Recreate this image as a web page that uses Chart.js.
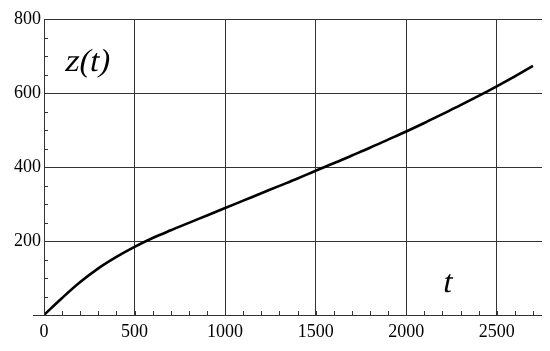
<!DOCTYPE html>
<html>
<head>
<meta charset="utf-8">
<script src="https://cdn.jsdelivr.net/npm/chart.js@4/dist/chart.umd.min.js"></script>
<style>
html,body{margin:0;padding:0;background:#fff;}
#wrap{width:550px;height:351px;position:relative;}
.pre{position:absolute;left:0;top:0;font-family:'Liberation Serif';font-size:18px;color:#fff;z-index:-1;}
</style>
</head>
<body>
<div class="pre">0123456789 z(t)</div>
<div id="wrap"><canvas id="c" width="550" height="351"></canvas></div>
<script>
const tValues = [0,100,200,300,400,500,600,700,800,900,1000,1100,1200,1300,1400,1500,1600,1700,1800,1900,2000,2100,2200,2300,2400,2500,2600,2700];
const zValues = [0,46,89,126,157,184,208,229,249,269,289,309,329,349,369,390,410,431,452,474,496,519,543,567,592,618,645,673];
const xTickLabels = [0,500,1000,1500,2000,2500];
const yTickLabels = [200,400,600,800];
const yAxisLabel = 'z(t)';
const xAxisLabel = 't';

const serif = "'Liberation Serif'";

function obliqueText(ctx, text, x, y) {
  ctx.save();
  ctx.translate(x, y);
  ctx.transform(1, 0, -0.21, 1, 0, 0);
  ctx.fillText(text, 0, 0);
  ctx.restore();
}

const extras = {
  id: 'extras',
  afterDraw(chart) {
    const ctx = chart.ctx;
    const xs = chart.scales.x, ys = chart.scales.y;
    const x0 = xs.getPixelForValue(0), y0 = ys.getPixelForValue(0);
    ctx.save();
    ctx.strokeStyle = '#333';
    ctx.lineWidth = 1;
    ctx.beginPath();
    ctx.moveTo(x0 - 11, Math.round(y0) + 0.5);
    ctx.lineTo(xs.right, Math.round(y0) + 0.5);
    ctx.moveTo(Math.round(x0) + 0.5, y0);
    ctx.lineTo(Math.round(x0) + 0.5, ys.getPixelForValue(800));
    ctx.stroke();
    ctx.beginPath();
    for (let v = 100; v <= 2700; v += 100) {
      const px = Math.round(xs.getPixelForValue(v)) + 0.5;
      ctx.moveTo(px, y0);
      ctx.lineTo(px, y0 - 4);
    }
    for (let v = 50; v <= 800; v += 50) {
      const py = Math.round(ys.getPixelForValue(v)) + 0.5;
      ctx.moveTo(x0, py);
      ctx.lineTo(x0 + 4, py);
    }
    ctx.stroke();
    ctx.fillStyle = '#000';
    ctx.font = '32px ' + serif;
    ctx.textBaseline = 'alphabetic';
    ctx.textAlign = 'left';
    obliqueText(ctx, yAxisLabel, 64, 71);
    obliqueText(ctx, xAxisLabel, 442, 292);
    ctx.restore();
  }
};

new Chart(document.getElementById('c'), {
  type: 'scatter',
  data: {
    datasets: [{
      data: tValues.map((t, i) => ({x: t, y: zValues[i]})),
      showLine: true,
      borderColor: '#000',
      borderWidth: 2.6,
      pointRadius: 0,
      tension: 0.35,
      fill: false
    }]
  },
  options: {
    responsive: false,
    animation: false,
    events: [],
    font: {family: serif},
    layout: {padding: {top: 19, right: 8, left: 0, bottom: 0}},
    plugins: {legend: {display: false}, tooltip: {enabled: false}},
    scales: {
      x: {
        type: 'linear', min: 0, max: 2750,
        afterBuildTicks(s) { s.ticks = xTickLabels.map(v => ({value: v})); },
        afterFit(s) { s.height = 36; },
        border: {display: false},
        grid: {color: '#333', lineWidth: 1, drawTicks: false},
        ticks: {color: '#000', font: {family: serif, size: 18}, padding: 6, maxRotation: 0,
          callback: v => String(v)}
      },
      y: {
        type: 'linear', min: 0, max: 800,
        afterBuildTicks(s) { s.ticks = yTickLabels.map(v => ({value: v})); },
        afterFit(s) { s.width = 44; },
        border: {display: false},
        grid: {color: '#333', lineWidth: 1, drawTicks: false},
        ticks: {color: '#000', font: {family: serif, size: 18}, padding: 3,
          callback: v => String(v)}
      }
    }
  },
  plugins: [extras]
});
</script>
</body>
</html>
